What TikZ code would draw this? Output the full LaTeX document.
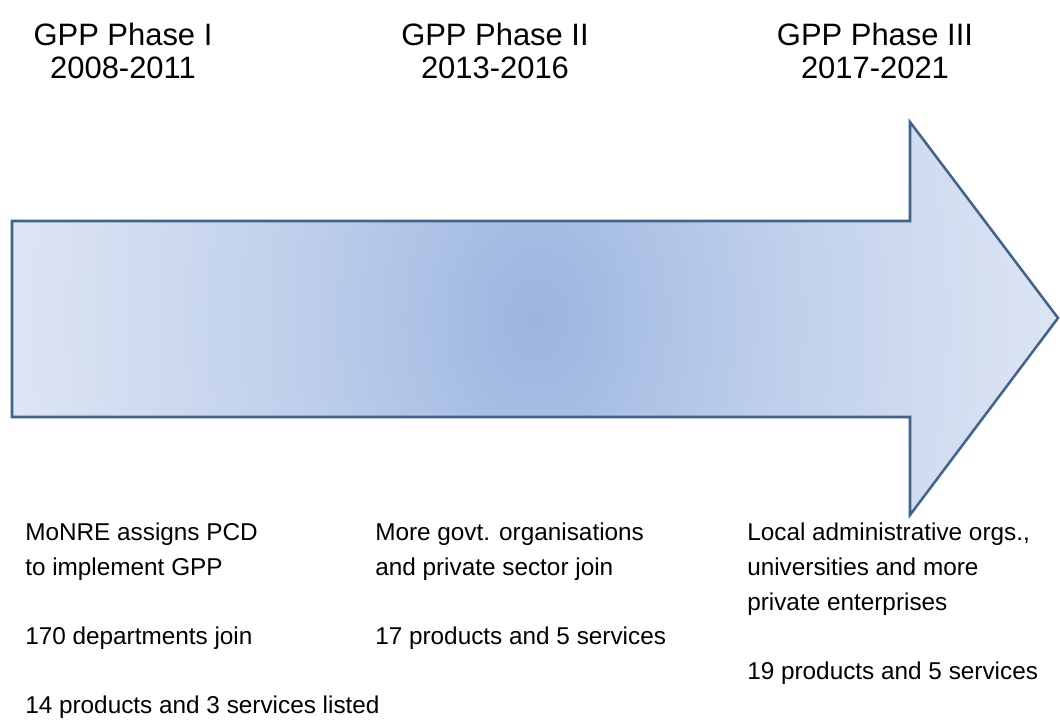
\documentclass[tikz,border=0pt]{standalone}
\usepackage{fontspec}
\setmainfont{Liberation Sans}
\usetikzlibrary{positioning}
\definecolor{arrowmid}{HTML}{9BB5E0}
\definecolor{arrowhalf}{HTML}{C0D0EB}
\definecolor{arrowedge}{HTML}{DDE5F3}
\definecolor{arrowline}{HTML}{41648F}
\pgfdeclareradialshading{phaseglow}{\pgfpoint{0bp}{0bp}}{color(0bp)=(arrowmid); color(12bp)=(arrowhalf); color(25bp)=(arrowedge); color(50bp)=(arrowedge)}
\tikzset{
  headtext/.style={align=center, inner sep=0pt, anchor=north, font=\fontsize{22}{23.5}\selectfont},
  notetext/.style={align=left, inner sep=0pt, anchor=north west, font=\fontsize{17.3}{24.6}\selectfont},
}
\newcommand{\phasehead}[3]{\node [headtext] (#1) at (#2) {#3}}
\newcommand{\phasenote}[3]{\node [notetext] (#1) at (#2) {#3}}

\begin{document}
\begin{tikzpicture}[x=0.025cm, y=-0.025cm]
\useasboundingbox (0,0) rectangle (1060,724);

% big arrow
\begin{scope}
\clip (12,221) -- (910,221) -- (910,122) -- (1058,318) -- (910,515) -- (910,417) -- (12,417) -- cycle;
\shade[shading=phaseglow] (12,-382) rectangle (1060,1018);
\end{scope}
\draw[arrowline, line width=1.8pt, line join=miter] (12,221) -- (910,221) -- (910,122) -- (1058,318) -- (910,515) -- (910,417) -- (12,417) -- cycle;

\phasehead{PH1}{123,23}{GPP Phase I\\2008-2011};
\phasehead{PH2}{495,23}{GPP Phase II\\2013-2016};
\phasehead{PH3}{875,23}{GPP Phase III\\2017-2021};

\phasenote{N1}{25,523}{MoNRE assigns PCD\\to implement GPP\\[24.6pt]170 departments join\\[24.6pt]14 products and 3 services listed};
\phasenote{N2}{375,523}{More govt. organisations\\and private sector join\\[24.6pt]17 products and 5 services};
\phasenote{N3}{747,523}{Local administrative orgs.,\\universities and more\\private enterprises\\[24.6pt]19 products and 5 services};

\end{tikzpicture}
\end{document}
